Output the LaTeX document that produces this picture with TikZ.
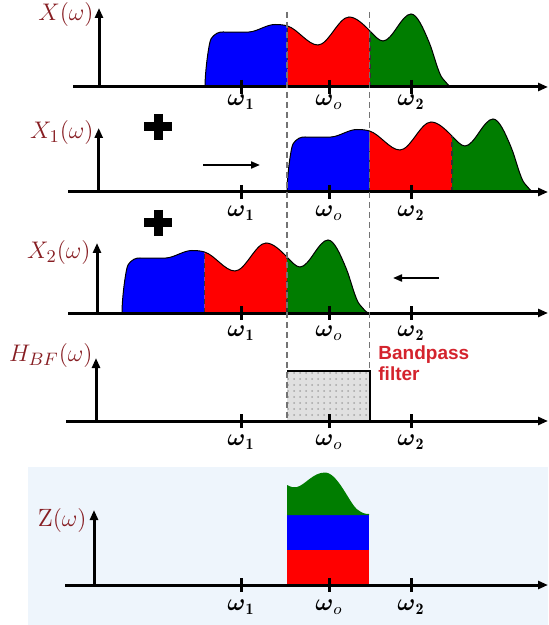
\documentclass[tikz,border=0pt]{standalone}
\usepackage{amsmath,amssymb}
\usepackage{fontspec}
\newfontfamily\filtfont{Liberation Sans}
\usetikzlibrary{arrows.meta, positioning, patterns}

\definecolor{sigblue}{RGB}{0,0,255}
\definecolor{sigred}{RGB}{255,0,0}
\definecolor{siggreen}{RGB}{0,125,0}
\definecolor{lblred}{RGB}{135,30,35}
\definecolor{bpred}{RGB}{212,35,45}
\definecolor{zback}{RGB}{238,245,252}

% top edge of one spectrum, split at the two band edges
\newcommand{\topblue}{(0,0) .. controls (0,16) and (4,45) .. (6,48) .. controls (10,54) and (14,55) .. (18,55) .. controls (26,55) and (36,54.5) .. (44,55) .. controls (52.7,55.5) and (61.3,62.5) .. (70,62.5) .. controls (74.2,62.5) and (78.3,62.25) .. (82.5,61)}
\newcommand{\topred}{(82.5,61) .. controls (92.7,58) and (102.8,42) .. (113,42) .. controls (123.3,42) and (133.7,70) .. (144,70) .. controls (151,70) and (158,63) .. (165,56)}
\newcommand{\topgreen}{(165,56) .. controls (169.3,51.7) and (173.7,46) .. (178,46) .. controls (187.3,46) and (196.7,73) .. (206,73) .. controls (212,73) and (218,59.4) .. (224,45) .. controls (228.7,33.8) and (233.3,12.7) .. (238,8) .. controls (241,5) and (244,0) .. (247,0)}

\begin{document}
\begin{tikzpicture}[
    x=0.5pt, y=-0.5pt,
    axis/.style={line width=1.5pt, -{Triangle[length=5pt,width=4pt]}},
    tick/.style={line width=1.5pt},
    edge/.style={black, line width=0.5pt},
    junction/.style={black!80, line width=0.6pt, dash pattern=on 2.5pt off 2pt},
    guide/.style={black!55, line width=0.7pt, dash pattern=on 3pt off 2pt},
    mover/.style={line width=1pt, -{Triangle[length=4.5pt,width=3.5pt]}},
    plus/.style={line width=4.5pt},
    lbl/.style={text=lblred, font=\fontsize{12.5}{14}\selectfont, inner sep=0pt},
    wl/.style={font=\fontsize{12}{14}\selectfont, inner sep=0pt},
    bp/.style={text=bpred, font=\filtfont\bfseries\fontsize{9.5}{10.5}\selectfont, align=left, inner sep=0pt},
    spectrum/.pic={
      \begin{scope}[yscale=-1]
        \fill[sigblue] \topblue -- (82.5,0) -- cycle;
        \fill[sigred] \topred -- (165,0) -- (82.5,0) -- cycle;
        \fill[siggreen] \topgreen -- (165,0) -- cycle;
        \draw[edge] \topblue \topred \topgreen;
        \draw[junction] (82.5,0) -- (82.5,61);
        \draw[junction] (165,0) -- (165,56);
      \end{scope}
    }
]
    \useasboundingbox (0,0) rectangle (548,625);

    % Z panel background
    \fill[zback] (28,467) rectangle (548,625);

    % Spectra
    \pic at (205,87) {spectrum};
    \pic at (287,192) {spectrum};
    \pic at (122,313) {spectrum};

    % Bandpass filter
    \fill[black!12] (287,421) rectangle (369.5,371);
    \fill[pattern=dots, pattern color=black!35] (287,421) rectangle (369.5,371);
    \draw[line width=1pt] (287,371) -- (369.5,371) -- (369.5,421);
    \node[bp, anchor=west] (bpf) at (378,363) {Bandpass\\filter};

    % Output spectrum
    \fill[sigred] (287,585) rectangle (369,550);
    \fill[sigblue] (287,550) rectangle (369,515);
    \fill[siggreen] (287,515) -- (287,485) .. controls (291,487) and (294,488) .. (297,487)
        .. controls (305,485) and (313,472.5) .. (325,472.5)
        .. controls (338,472.5) and (350,505) .. (358,510)
        .. controls (362,513) and (365,514) .. (369,514) -- (369,515) -- cycle;

    % Axes, ticks and frequencies
    \foreach \ay/\vx/\vt/\hx/\ly in {87/99/8/73/102, 192/98.7/128/68/213, 313/97/243/68/333, 421/96/358/66/442, 585/94/510/65/607} {
      \draw[axis] (\hx,\ay) -- (548,\ay);
      \draw[axis] (\vx,\ay) -- (\vx,\vt);
      \foreach \tx/\tl in {241/{$\boldsymbol{\omega}_{\mathbf 1}$}, 329/{$\boldsymbol{\omega}_{o}$}, 411/{$\boldsymbol{\omega}_{\mathbf 2}$}} {
        \draw[tick] (\tx,\ay-7) -- (\tx,\ay+7);
        \node[wl] (w-\ay-\tx) at (\tx,\ly) {\tl};
      }
    }

    % Band edges
    \coordinate (ga) at (287,12);
    \coordinate (gb) at (369.5,12);
    \coordinate (gc) at (287,421);
    \coordinate (gd) at (369.5,371);
    \draw[guide] (ga) -- (gc);
    \draw[guide] (gb) -- (gd);

    % Labels
    \node[lbl, anchor=east] (lx) at (94,15) {$X(\omega)$};
    \node[lbl, anchor=east] (lx1) at (94,133) {$X_1(\omega)$};
    \node[lbl, anchor=east] (lx2) at (91,253) {$X_2(\omega)$};
    \node[lbl, anchor=east] (lh) at (93,355) {$H_{BF}(\omega)$};
    \node[lbl, anchor=east] (lz) at (87,520) {$\mathrm{Z}(\omega)$};

    % Shifts
    \draw[plus] (144,127) -- (172,127) (158,114) -- (158,140);
    \draw[plus] (144,223) -- (172,223) (158,210) -- (158,236);
    \coordinate (ra) at (203,165);
    \coordinate (rb) at (260,165);
    \coordinate (la) at (439,278);
    \coordinate (lb) at (393,278);
    \draw[mover] (ra) -- (rb);
    \draw[mover] (la) -- (lb);

\end{tikzpicture}
\end{document}
